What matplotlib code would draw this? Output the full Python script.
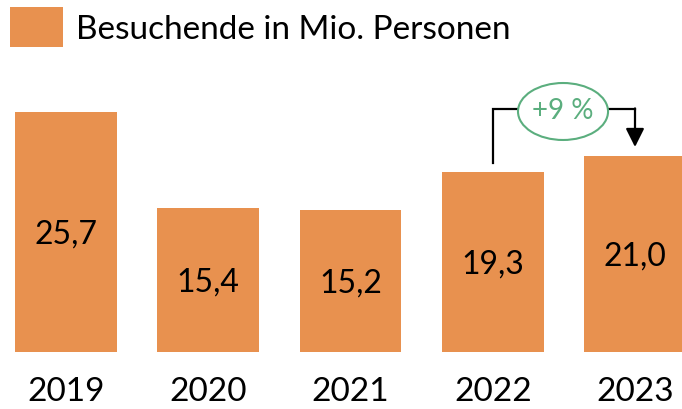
import matplotlib
matplotlib.use("Agg")
import matplotlib.pyplot as plt
from matplotlib.patches import Rectangle, Ellipse

years = ["2019", "2020", "2021", "2022", "2023"]
visitors = [25.7, 15.4, 15.2, 19.3, 21.0]
value_labels = ["25,7", "15,4", "15,2", "19,3", "21,0"]
legend_label = "Besuchende in Mio. Personen"
change_label = "+9 %"

ORANGE = "#E8914F"
GREEN = "#5BAE7E"

plt.rcParams["font.family"] = ["Lato", "DejaVu Sans"]

W, H = 682, 409
fig = plt.figure(figsize=(W / 100, H / 100), dpi=100)

# axes placed in pixel terms: bar spacing ~142 px, 9.34 px per unit, baseline at y=352
spacing = 142.25
px_per_unit = 9.34
ymax = 30
left_px = 66 - 0.5 * spacing
ax = fig.add_axes([left_px / W, (H - 352) / H, 5 * spacing / W, ymax * px_per_unit / H])
ax.set_xlim(-0.5, 4.5)
ax.set_ylim(0, ymax)
ax.axis("off")

x = list(range(len(years)))
ax.bar(x, visitors, width=0.717, color=ORANGE, clip_on=False)

for xi, v, lab in zip(x, visitors, value_labels):
    ax.text(xi, v / 2 - 0.3, lab, ha="center", va="center", fontsize=23, color="black")

for xi, yr in zip(x, years):
    ax.text(xi, -40 / px_per_unit, yr, ha="center", va="center", fontsize=24,
            color="black", clip_on=False)

# growth annotation 2022 -> 2023
y_line = 26.0
ax.plot([3, 3, 3.5 - 0.316], [visitors[3] + 0.9, y_line, y_line], color="black", lw=1.6,
        solid_joinstyle="miter", clip_on=False)
ax.plot([3.5 + 0.316, 4.0], [y_line, y_line], color="black", lw=1.6, clip_on=False)
ax.annotate("", xy=(4.0, visitors[4] + 0.95), xytext=(4.0, y_line + 0.08),
            arrowprops=dict(arrowstyle="-|>,head_length=0.8,head_width=0.4",
                            mutation_scale=14, color="black", lw=1.6,
                            shrinkA=0, shrinkB=0))
ax.add_patch(Ellipse((3.494, 25.75), 0.633, 6.1, facecolor="white",
                     edgecolor=GREEN, lw=1.5, clip_on=False, zorder=3))
ax.text(3.494, 25.75, change_label, ha="center", va="center", fontsize=20,
        color=GREEN, zorder=4)

# legend
fig.patches.append(Rectangle((10 / W, (H - 47) / H), 53 / W, 40 / H,
                             transform=fig.transFigure, facecolor=ORANGE,
                             edgecolor="none"))
fig.text(76 / W, (H - 30) / H, legend_label, ha="left", va="center",
         fontsize=24, color="black")

fig.savefig("out.png", dpi=100, facecolor="white")
